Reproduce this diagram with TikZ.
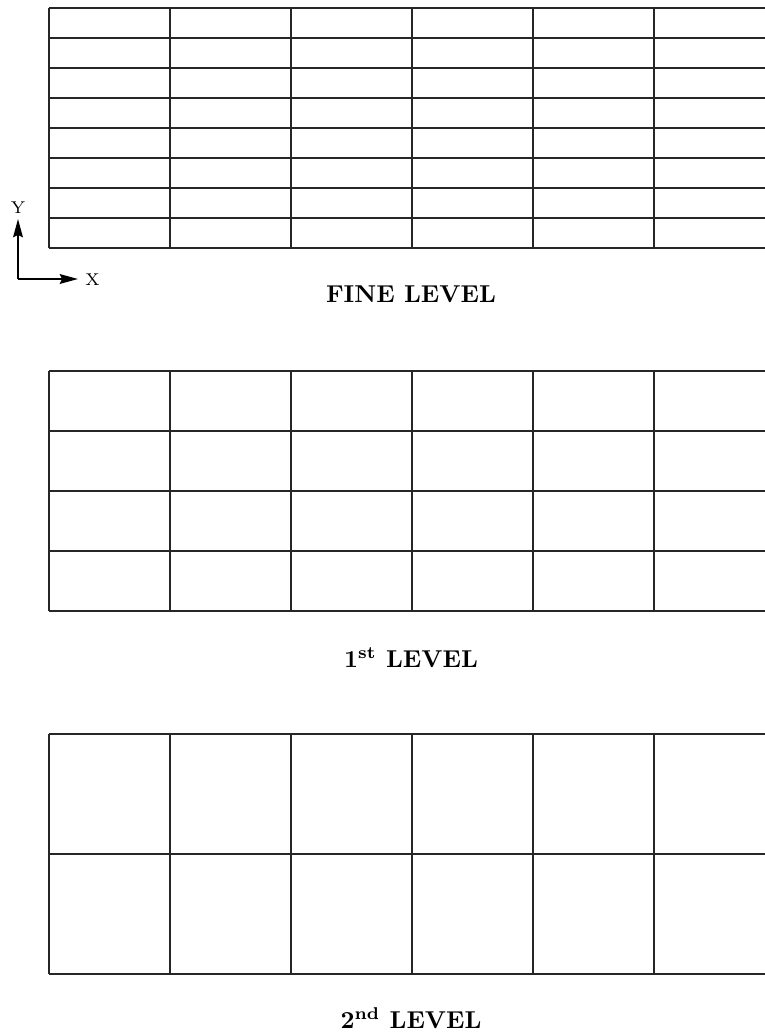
\documentclass[tikz,border=0pt]{standalone}
\usetikzlibrary{arrows.meta}
\begin{document}
\begin{tikzpicture}[x=0.41pt,y=-0.41pt,
  gridline/.style={line width=0.45pt,black!85},
  lbl/.style={font=\bfseries,anchor=base,inner sep=0pt},
  axlbl/.style={font=\scriptsize,inner sep=0pt},
  axarrow/.style={line width=0.75pt,-{Stealth[length=7.5pt,width=4pt,inset=1pt]}}]
\useasboundingbox (0,0) rectangle (765,1034);
% fine level
\foreach \y in {8,38,...,248} \draw[gridline] (49,\y) -- (765,\y);
\foreach \x in {49,170,291,412,533,654} \draw[gridline] (\x,8) -- (\x,248);
% 1st level
\foreach \y in {371,431,...,611} \draw[gridline] (49,\y) -- (765,\y);
\foreach \x in {49,170,291,412,533,654} \draw[gridline] (\x,371) -- (\x,611);
% 2nd level
\foreach \y in {734,854,974} \draw[gridline] (49,\y) -- (765,\y);
\foreach \x in {49,170,291,412,533,654} \draw[gridline] (\x,734) -- (\x,974);
% axes
\coordinate (o) at (18,279);
\coordinate (ytip) at (18,219);
\coordinate (xtip) at (78,279);
\draw[axarrow] (o) -- (ytip);
\draw[axarrow] (o) -- (xtip);
\node[axlbl] (ylab) at (18,208) {Y};
\node[axlbl,anchor=west] (xlab) at (85,280) {X};
% labels
\node[lbl] (fine) at (411,302) {FINE LEVEL};
\node[lbl] (first) at (411,667) {1\textsuperscript{st} LEVEL};
\node[lbl] (second) at (411,1028) {2\textsuperscript{nd} LEVEL};
\end{tikzpicture}
\end{document}
